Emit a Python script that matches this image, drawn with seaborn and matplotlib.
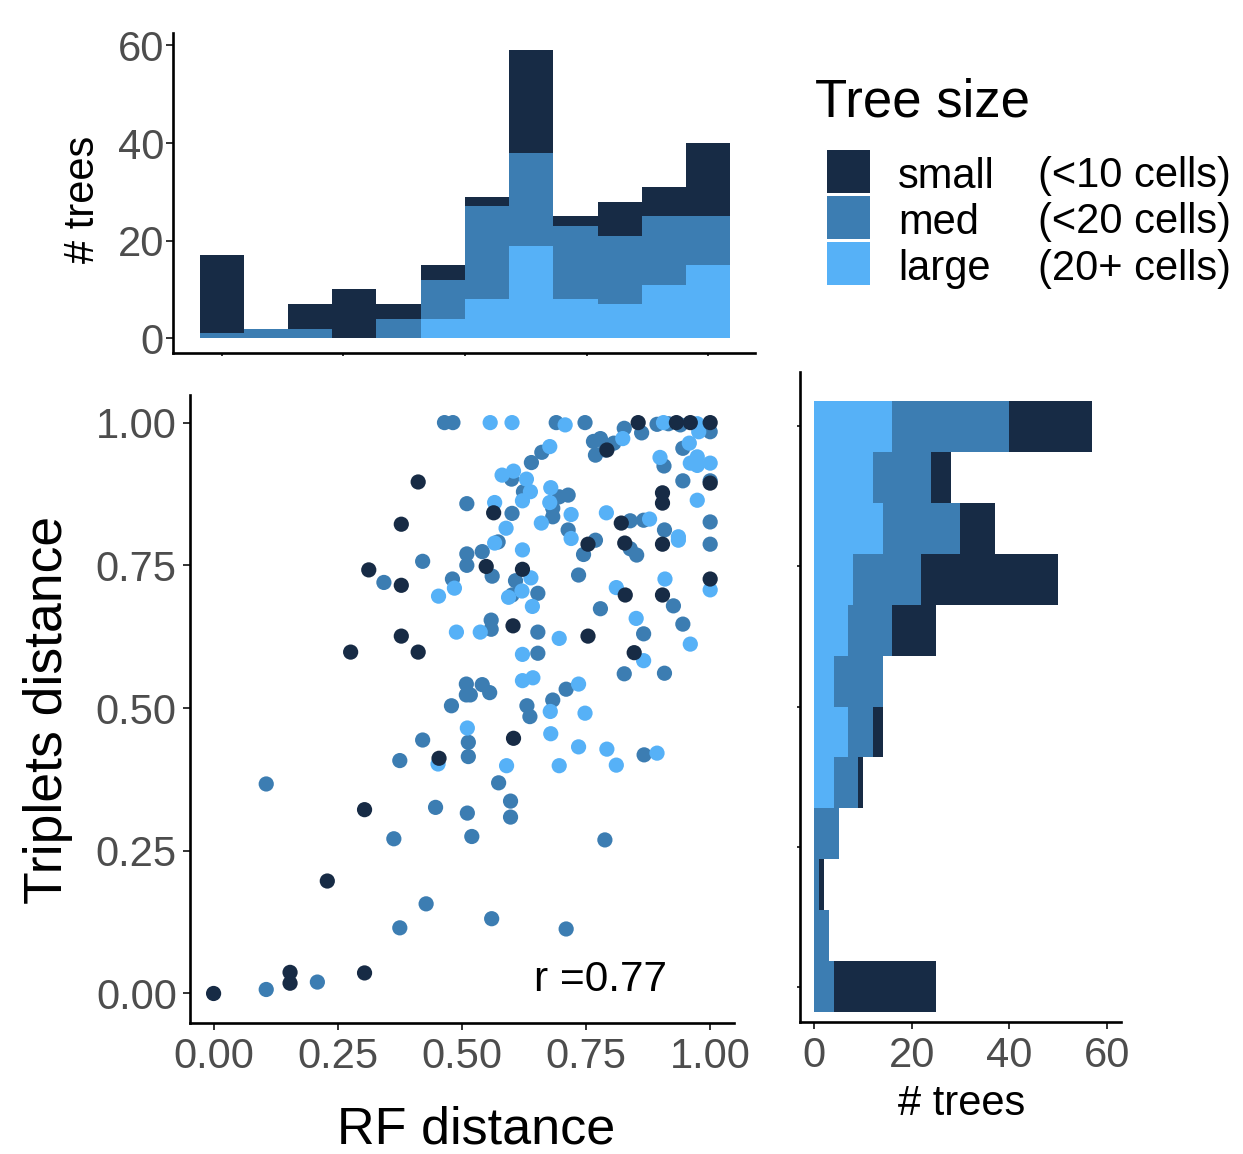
import numpy as np
import pandas as pd
import matplotlib
matplotlib.use("Agg")
import matplotlib.pyplot as plt
import seaborn as sns
from matplotlib.patches import Rectangle

# ---------------- data ----------------
groups = ["small", "med", "large"]
group_notes = ["(<10 cells)", "(<20 cells)", "(20+ cells)"]
group_colors = ["#172B45", "#3C7DB2", "#56B1F7"]

small_x = [0.412, 0.378, 0.3125, 0.378, 0.378, 0.276, 0.412, 0.855, 0.932, 0.96, 1.0,
           0.792, 0.564, 0.549, 0.622, 0.754, 0.821, 0.828, 1.0, 0.904, 0.904, 0.904,
           1.0, 0.829, 0.904, 0.754, 0.603, 0.847, 0.454, 0.604, 0.304, 0.229, 0.304,
           0.154, 0.154, 0.0]
small_y = [0.896, 0.822, 0.742, 0.715, 0.626, 0.598, 0.598, 1.0, 1.0, 1.0, 1.0,
           0.952, 0.842, 0.748, 0.743, 0.787, 0.824, 0.789, 0.894, 0.877, 0.859, 0.787,
           0.726, 0.698, 0.698, 0.626, 0.644, 0.597, 0.412, 0.447, 0.322, 0.197, 0.036,
           0.037, 0.018, 0.0]

med_x = [0.465, 0.482, 0.51, 0.421, 0.343, 0.481, 0.51, 0.51, 0.509, 0.509, 0.479,
         0.69, 0.748, 0.893, 0.916, 0.94, 1.0, 0.827, 0.862, 0.765, 0.779, 0.769, 0.789,
         0.806, 0.661, 0.64, 0.6, 0.624, 0.696, 0.714, 0.683, 0.683, 0.601, 0.573, 0.541,
         0.561, 0.608, 0.601, 0.653, 0.735, 0.714, 0.769, 0.745, 0.839, 0.866, 0.839,
         0.852, 0.907, 0.945, 0.945, 1.0, 1.0, 0.908, 1.0, 0.926, 0.779, 0.945, 0.866,
         0.653, 0.559, 0.559, 0.653, 0.827, 0.908, 0.71, 0.683, 0.517, 0.541, 0.556,
         0.631, 0.637, 0.421, 0.513, 0.513, 0.375, 0.867, 0.106, 0.574, 0.598, 0.598,
         0.447, 0.511, 0.363, 0.52, 0.788, 0.428, 0.375, 0.56, 0.71, 0.209, 0.106]
med_y = [1.0, 1.0, 0.858, 0.757, 0.72, 0.726, 0.77, 0.75, 0.542, 0.523, 0.504,
         1.0, 1.0, 0.997, 0.998, 0.996, 0.984, 0.99, 0.982, 0.967, 0.972, 0.943, 0.952,
         0.964, 0.948, 0.93, 0.901, 0.879, 0.870, 0.873, 0.85, 0.835, 0.841, 0.791, 0.774,
         0.731, 0.723, 0.698, 0.701, 0.733, 0.812, 0.794, 0.769, 0.828, 0.829, 0.779,
         0.768, 0.924, 0.955, 0.898, 0.898, 0.826, 0.812, 0.787, 0.679, 0.674, 0.647, 0.63,
         0.633, 0.654, 0.638, 0.596, 0.56, 0.561, 0.533, 0.514, 0.523, 0.541, 0.527,
         0.504, 0.485, 0.444, 0.44, 0.415, 0.408, 0.418, 0.367, 0.369, 0.337, 0.309,
         0.326, 0.316, 0.271, 0.275, 0.269, 0.157, 0.115, 0.131, 0.113, 0.02, 0.007]

large_x = [0.485, 0.453, 0.489, 0.557, 0.601, 0.708, 0.906, 0.974, 0.977, 0.824, 0.677,
           0.581, 0.604, 0.63, 0.638, 0.622, 0.679, 0.677, 0.72, 0.66, 0.566, 0.589,
           0.566, 0.622, 0.639, 0.621, 0.594, 0.642, 0.72, 0.791, 0.878, 0.899, 0.958,
           0.96, 0.974, 0.974, 1.0, 0.974, 0.936, 0.936, 1.0, 0.909, 0.811, 0.851, 0.96,
           0.696, 0.537, 0.622, 0.866, 0.622, 0.643, 0.735, 0.678, 0.748, 0.511, 0.452,
           0.679, 0.735, 0.792, 0.811, 0.696, 0.59, 0.893]
large_y = [0.71, 0.696, 0.633, 1.0, 1.0, 0.996, 1.0, 0.998, 0.984, 0.972, 0.958,
           0.908, 0.915, 0.901, 0.879, 0.863, 0.886, 0.86, 0.839, 0.824, 0.86, 0.815,
           0.789, 0.777, 0.728, 0.705, 0.694, 0.678, 0.797, 0.842, 0.831, 0.939, 0.964,
           0.929, 0.94, 0.925, 0.929, 0.864, 0.80, 0.794, 0.707, 0.726, 0.711, 0.657, 0.612,
           0.622, 0.633, 0.594, 0.583, 0.548, 0.553, 0.542, 0.494, 0.491, 0.465, 0.402,
           0.455, 0.432, 0.428, 0.40, 0.399, 0.399, 0.421]

# marginal histogram counts (12 bins of width 1/11 centred on 0, 1/11, ..., 1)
bin_centers = np.arange(12) / 11
top_small = [16, 0, 5, 10, 3, 3, 2, 21, 2, 7, 6, 15]
top_med = [1, 2, 2, 0, 4, 8, 19, 19, 15, 14, 14, 10]
top_large = [0, 0, 0, 0, 0, 4, 8, 19, 8, 7, 11, 15]
right_small = [21, 0, 1, 0, 1, 2, 0, 9, 28, 7, 4, 17]
right_med = [4, 3, 1, 5, 5, 5, 10, 9, 14, 16, 12, 24]
right_large = [0, 0, 0, 0, 4, 7, 4, 7, 8, 14, 12, 16]

r_label = "r =0.77"
xlabel = "RF distance"
ylabel = "Triplets distance"
count_label = "# trees"
legend_title = "Tree size"

# ---------------- style ----------------
sns.set_style("ticks")
plt.rcParams["font.family"] = ["Liberation Sans", "DejaVu Sans"]
plt.rcParams["axes.linewidth"] = 1.9
plt.rcParams["axes.edgecolor"] = "black"
plt.rcParams["text.color"] = "black"

W, H, DPI = 1243, 1154, 100
fig = plt.figure(figsize=(W / DPI, H / DPI), dpi=DPI)
fig.patch.set_facecolor("white")


def rect(left, top, right, bottom):
    return [left / W, 1 - bottom / H, (right - left) / W, (bottom - top) / H]


def fx(px):
    return px / W


def fy(py):
    return 1 - py / H


pal = dict(zip(groups, group_colors))
BINW = 1 / 11
BINRANGE = (-0.5 / 11, 11.5 / 11)
TICK_FS = 30
TICK_COL = "#4D4D4D"

# ---------------- main scatter ----------------
ax_main = fig.add_axes(rect(190, 394.8, 734, 1023))
pts = pd.concat([
    pd.DataFrame({"x": med_x, "y": med_y, "grp": "med"}),
    pd.DataFrame({"x": large_x, "y": large_y, "grp": "large"}),
    pd.DataFrame({"x": small_x, "y": small_y, "grp": "small"}),
], ignore_index=True)
sns.scatterplot(data=pts, x="x", y="y", hue="grp", hue_order=groups, palette=pal,
                s=120, linewidth=0, alpha=1, legend=False, ax=ax_main)
ax_main.set_xlim(-0.0475, 1.048)
ax_main.set_ylim(-0.0517, 1.0487)
ticks = [0, 0.25, 0.5, 0.75, 1.0]
ax_main.set_xticks(ticks, ["0.00", "0.25", "0.50", "0.75", "1.00"])
ax_main.set_yticks(ticks, ["0.00", "0.25", "0.50", "0.75", "1.00"])
ax_main.set_xlabel("")
ax_main.set_ylabel("")
ax_main.tick_params(axis="x", length=5, width=1.4, color="#333333", pad=5,
                    labelsize=TICK_FS, labelcolor=TICK_COL)
ax_main.tick_params(axis="y", length=5, width=1.4, color="#333333", pad=4.5,
                    labelsize=TICK_FS, labelcolor=TICK_COL)
ax_main.text(0.78, 0.0035, r_label, ha="center", va="baseline", fontsize=30.5,
             color="black")

# ---------------- top histogram ----------------
ax_top = fig.add_axes(rect(173, 32.7, 755, 352.7))
df_top = pd.DataFrame({
    "val": np.tile(bin_centers, 3),
    "w": np.array(top_small + top_med + top_large, dtype=float),
    "grp": np.repeat(groups, 12),
})
sns.histplot(data=df_top, x="val", weights="w", hue="grp", hue_order=groups,
             palette=pal, multiple="stack", binwidth=BINW, binrange=BINRANGE,
             linewidth=0, alpha=1, legend=False, ax=ax_top)
ax_top.set_xlim(-0.1, 1.096)
ax_top.set_ylim(-2.95, 62.6)
ax_top.set_xticks(ticks, [])
ax_top.set_yticks([0, 20, 40, 60], ["0", "20", "40", "60"])
ax_top.set_xlabel("")
ax_top.set_ylabel("")
ax_top.tick_params(axis="x", length=2.5, width=1.4, color="#333333")
ax_top.tick_params(axis="y", length=5, width=1.4, color="#333333", pad=1.5,
                   labelsize=TICK_FS, labelcolor=TICK_COL)

# ---------------- right histogram ----------------
ax_right = fig.add_axes(rect(800, 371.7, 1120.7, 1021.7))
df_right = pd.DataFrame({
    "val": np.tile(bin_centers, 3),
    "w": np.array(right_small + right_med + right_large, dtype=float),
    "grp": np.repeat(groups, 12),
})
sns.histplot(data=df_right, y="val", weights="w", hue="grp", hue_order=groups,
             palette=pal, multiple="stack", binwidth=BINW, binrange=BINRANGE,
             linewidth=0, alpha=1, legend=False, ax=ax_right)
ax_right.set_ylim(-0.062, 1.097)
ax_right.set_xlim(-2.94, 62.9)
ax_right.set_yticks(ticks, [])
ax_right.set_xticks([0, 20, 40, 60], ["0", "20", "40", "60"])
ax_right.set_xlabel("")
ax_right.set_ylabel("")
ax_right.tick_params(axis="y", length=2.5, width=1.4, color="#333333")
ax_right.tick_params(axis="x", length=5, width=1.4, color="#333333", pad=5,
                     labelsize=TICK_FS, labelcolor=TICK_COL)

for ax in (ax_main, ax_top, ax_right):
    ax.spines["top"].set_visible(False)
    ax.spines["right"].set_visible(False)
    ax.set_facecolor("white")

# ---------------- axis titles ----------------
fig.text(fx(476), fy(1143), xlabel, ha="center", va="baseline", fontsize=37.5,
         color="black")
fig.text(fx(62), fy(710), ylabel, ha="center", va="baseline", rotation=90,
         rotation_mode="anchor", fontsize=38.5, color="black")
fig.text(fx(94), fy(199), count_label, ha="center", va="baseline", rotation=90,
         rotation_mode="anchor", fontsize=30, color="black")
fig.text(fx(962), fy(1115), count_label, ha="center", va="baseline", fontsize=30,
         color="black")

# ---------------- legend ----------------
fig.text(fx(815), fy(116.7), legend_title, ha="left", va="baseline", fontsize=38,
         color="black")
row_tops = [150, 196, 242]
for top, g, note, c in zip(row_tops, groups, group_notes, group_colors):
    fig.patches.append(Rectangle((fx(826.7), fy(top + 43)), 43.3 / W, 43 / H,
                                 transform=fig.transFigure, facecolor=c,
                                 edgecolor="none"))
    base = top + 21.5 + 16
    fig.text(fx(898.3), fy(base), g, ha="left", va="baseline", fontsize=30,
             color="black")
    fig.text(fx(1038.3), fy(base), note, ha="left", va="baseline", fontsize=30,
             color="black")

fig.savefig("out.png", dpi=DPI, facecolor="white")
